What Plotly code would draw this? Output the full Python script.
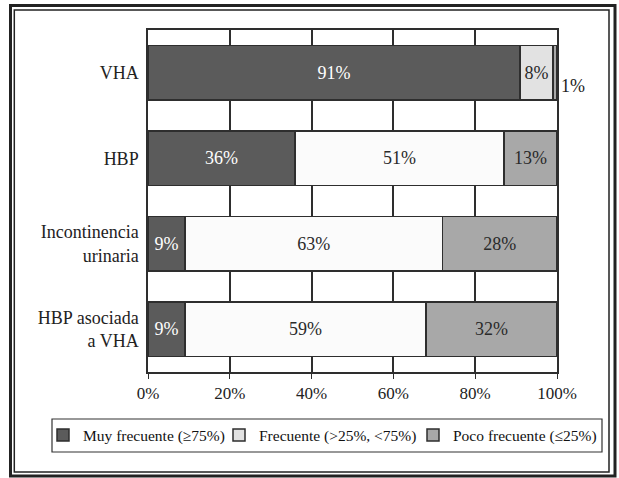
import plotly.graph_objects as go

categories = ["VHA", "HBP", "Incontinencia<br>urinaria", "HBP asociada<br>a VHA"]
muy_frecuente = [91, 36, 9, 9]
frecuente = [8, 51, 63, 59]
poco_frecuente = [1, 13, 28, 32]
series_names = ["Muy frecuente (≥75%)", "Frecuente (>25%, <75%)", "Poco frecuente (≤25%)"]
x_ticks = [0, 20, 40, 60, 80, 100]

W, H = 619, 478
L, R, T, B = 148, 62, 30, 106
PW, PH = W - L - R, H - T - B
FONT = "Liberation Serif, DejaVu Serif, serif"
EDGE = "#2e2e2e"


def px_x(px):
    return (px - L) / PW


def px_y(py):
    return (H - B - py) / PH


fig = go.Figure()

fig.add_trace(go.Bar(
    y=categories, x=muy_frecuente, orientation="h", name=series_names[0], legend="legend",
    marker=dict(color="#5b5b5b", line=dict(color=EDGE, width=1.5)),
    text=[f"{v}%" for v in muy_frecuente], textposition="inside",
    insidetextanchor="middle", textfont=dict(color="white", size=18, family=FONT),
    constraintext="none",
))
fig.add_trace(go.Bar(
    y=categories, x=frecuente, orientation="h", name=series_names[1], legend="legend2",
    marker=dict(color=["#e2e2e2", "#fbfbfb", "#fbfbfb", "#fbfbfb"],
                line=dict(color=EDGE, width=1.5)),
    text=[f"{v}%" for v in frecuente], textposition="inside",
    insidetextanchor="middle", textfont=dict(color="#2a2a2a", size=18, family=FONT),
    constraintext="none",
))
poco_text = [f"{v}%" if v >= 5 else "" for v in poco_frecuente]
fig.add_trace(go.Bar(
    y=categories, x=poco_frecuente, orientation="h", name=series_names[2], legend="legend3",
    marker=dict(color="#a8a8a8", line=dict(color=EDGE, width=1.5)),
    text=poco_text, textposition="inside",
    insidetextanchor="middle", textfont=dict(color="#2a2a2a", size=18, family=FONT),
    constraintext="none",
))

# small segment label placed outside the bar end
for cat, a, b, c in zip(categories, muy_frecuente, frecuente, poco_frecuente):
    if c < 5:
        fig.add_annotation(x=a + b + c, y=cat, text=f"{c}%", showarrow=False,
                           xanchor="left", xshift=2, yshift=-13,
                           font=dict(size=18, family=FONT, color="#222"))

# double frame around the figure
fig.add_shape(type="rect", xref="paper", yref="paper",
              x0=px_x(10.5), x1=px_x(615), y0=px_y(476), y1=px_y(5.5),
              line=dict(color="#222", width=3))
fig.add_shape(type="rect", xref="paper", yref="paper",
              x0=px_x(14.3), x1=px_x(609), y0=px_y(472), y1=px_y(10),
              line=dict(color="#222", width=1.5))
# legend box
fig.add_shape(type="rect", xref="paper", yref="paper",
              x0=px_x(52), x1=px_x(602), y0=px_y(452), y1=px_y(419),
              line=dict(color="#333", width=1.2))

leg_common = dict(orientation="h", xanchor="left", y=px_y(435.5), yanchor="middle",
                  borderwidth=0, bgcolor="rgba(0,0,0,0)",
                  font=dict(size=15.5, family=FONT, color="#111"))

fig.update_layout(
    width=W, height=H,
    margin=dict(l=L, r=R, t=T, b=B, autoexpand=False),
    barmode="stack", bargap=0.357,
    paper_bgcolor="white", plot_bgcolor="white",
    font=dict(family=FONT, color="#222"),
    showlegend=True,
    legend=dict(x=px_x(43), **leg_common),
    legend2=dict(x=px_x(219), **leg_common),
    legend3=dict(x=px_x(413), **leg_common),
    xaxis=dict(range=[0, 100], tickvals=x_ticks, ticktext=[f"{v}%" for v in x_ticks],
               showgrid=True, gridcolor=EDGE, gridwidth=1.5, showline=True, linecolor=EDGE,
               linewidth=1.5, mirror=True, ticks="outside", ticklen=5, tickcolor=EDGE,
               tickfont=dict(size=17, family=FONT, color="#222"), zeroline=False, fixedrange=True),
    yaxis=dict(categoryorder="array", categoryarray=categories, autorange=False,
               range=[3.5, -0.5], showline=True, linecolor=EDGE, linewidth=1.5, mirror=True,
               ticks="", ticklabelstandoff=4, showgrid=False,
               tickfont=dict(size=18, family=FONT, color="#222"), fixedrange=True),
)

fig.write_html("out.html", config={"displayModeBar": False},
               post_script="document.body.style.margin='0';")
